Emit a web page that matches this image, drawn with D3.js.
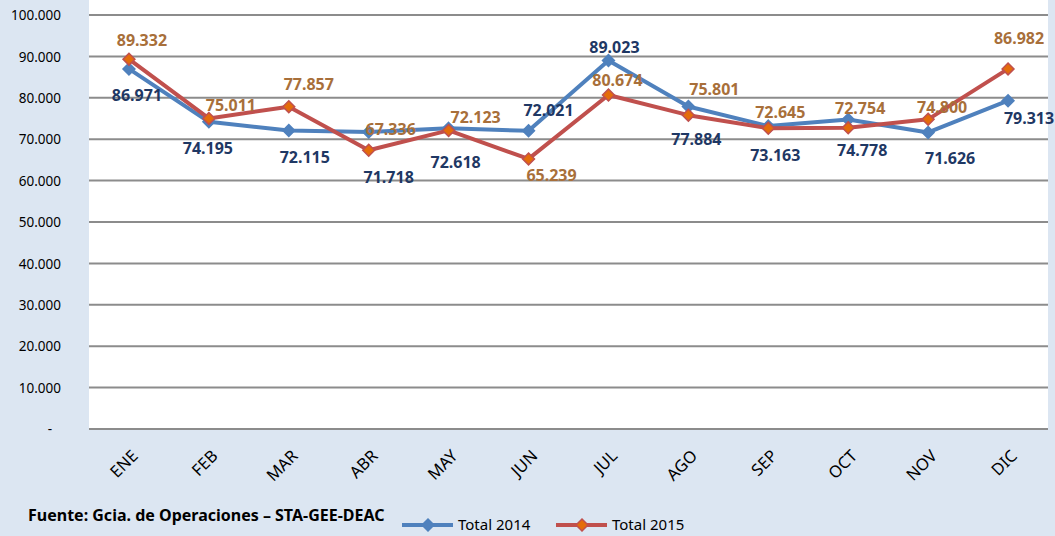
<!DOCTYPE html>
<html>
<head>
<meta charset="utf-8">
<script src="https://cdn.jsdelivr.net/npm/d3@7"></script>
<style>
  body { margin: 0; background: #dce6f2; }
  svg { display: block; font-family: "Noto Sans", sans-serif; }
</style>
</head>
<body>
<div id="chart"></div>
<script>
// Monthly totals, 2014 vs 2015
const months = ['ENE', 'FEB', 'MAR', 'ABR', 'MAY', 'JUN', 'JUL', 'AGO', 'SEP', 'OCT', 'NOV', 'DIC'];
const total2014 = [86971, 74195, 72115, 71718, 72618, 72021, 89023, 77884, 73163, 74778, 71626, 79313];
const total2015 = [89332, 75011, 77857, 67336, 72123, 65239, 80674, 75801, 72645, 72754, 74800, 86982];
const yTicks = [0, 10000, 20000, 30000, 40000, 50000, 60000, 70000, 80000, 90000, 100000];

const series = [
    { name: 'Total 2014', values: total2014, line: '#4f81bd', fill: '#4f81bd', stroke: '#4f81bd', label: '#1f3864' },
    { name: 'Total 2015', values: total2015, line: '#c0504d', fill: '#e46c0a', stroke: '#c0504d', label: '#a86f3a' }
];

// label nudges (dx, dy from the point), as placed in the original
const nudges = [
    [[8, 26], [-1, 26], [16, 27], [20, 45], [7, 34], [20, -21], [6, -13], [8, 33], [7, 29], [14, 31], [22, 26], [21, 18]],
    [[13, -19], [22, -13], [20, -22], [22, -21], [27, -13], [23, 16], [9, -15], [26, -26], [12, -16], [12, -20], [14, -12], [11, -31]]
];

const W = 1055, H = 536;
const plot = { left: 89, right: 1048, top: 0, bottom: 429 };

const svg = d3.select('#chart').append('svg')
    .attr('width', W)
    .attr('height', H);

svg.append('rect')
    .attr('width', W).attr('height', H)
    .attr('fill', '#dce6f2');

svg.append('rect')
    .attr('x', plot.left).attr('y', plot.top)
    .attr('width', plot.right - plot.left)
    .attr('height', plot.bottom - plot.top)
    .attr('fill', '#ffffff');

const x = d3.scaleBand()
    .domain(months)
    .range([plot.left, plot.right]);

const y = d3.scaleLinear()
    .domain([0, 100000])
    .range([429, 15]);

const fmt = d3.formatLocale({ decimal: ',', thousands: '.', grouping: [3], currency: ['', ''] }).format(',d');

// gridlines
svg.append('g')
    .selectAll('line')
    .data(yTicks)
    .join('line')
    .attr('x1', plot.left).attr('x2', plot.right)
    .attr('y1', d => y(d)).attr('y2', d => y(d))
    .attr('stroke', '#8c8c8c')
    .attr('stroke-width', 2);

// y axis labels
const yAxis = d3.axisLeft(y)
    .tickValues(yTicks)
    .tickSize(0)
    .tickPadding(0)
    .tickFormat(d => d === 0 ? '-' : fmt(d));

const yg = svg.append('g')
    .attr('transform', 'translate(61,0)')
    .call(yAxis);
yg.select('.domain').remove();
yg.selectAll('text')
    .attr('font-family', '"Noto Sans", sans-serif')
    .attr('font-size', 13.5)
    .attr('fill', '#000')
    .attr('dy', '0.35em')
    .attr('dx', d => d === 0 ? -9 : 0);

// x axis labels
const xAxis = d3.axisBottom(x).tickSize(0).tickPadding(0);
const xg = svg.append('g')
    .attr('transform', `translate(0,${plot.bottom})`)
    .call(xAxis);
xg.select('.domain').remove();
xg.selectAll('text')
    .attr('font-family', '"Noto Sans", sans-serif')
    .attr('font-size', 16.5)
    .attr('fill', '#000')
    .attr('text-anchor', 'end')
    .attr('dy', 0)
    .attr('y', 0)
    .attr('transform', 'translate(10,28) rotate(-45)');

const px = i => x(months[i]) + x.bandwidth() / 2;

const line = d3.line()
    .x((d, i) => px(i))
    .y(d => y(d));

const diamond = d3.symbol().type(d3.symbolDiamond2).size(90);

series.forEach((s, si) => {
    const g = svg.append('g');
    g.append('path')
        .datum(s.values)
        .attr('d', line)
        .attr('fill', 'none')
        .attr('stroke', s.line)
        .attr('stroke-width', 4)
        .attr('stroke-linejoin', 'round');

    g.selectAll('path.marker')
        .data(s.values)
        .join('path')
        .attr('class', 'marker')
        .attr('d', diamond)
        .attr('transform', (d, i) => `translate(${px(i)},${y(d)})`)
        .attr('fill', s.fill)
        .attr('stroke', s.stroke)
        .attr('stroke-width', 1.5);
});

// data labels on top
series.forEach((s, si) => {
    svg.append('g')
        .selectAll('text')
        .data(s.values)
        .join('text')
        .attr('x', (d, i) => px(i) + nudges[si][i][0])
        .attr('y', (d, i) => y(d) + nudges[si][i][1])
        .attr('dy', '0.36em')
        .attr('text-anchor', 'middle')
        .attr('font-size', 16)
        .attr('font-weight', 'bold')
        .attr('fill', s.label)
        .text(d => fmt(d));
});

// source note
svg.append('text')
    .attr('x', 28)
    .attr('y', 521)
    .attr('font-size', 16)
    .attr('font-weight', 'bold')
    .attr('fill', '#000')
    .text('Fuente: Gcia. de Operaciones \u2013 STA-GEE-DEAC');

// legend
const legendX = [402, 556];
const legend = svg.append('g');
series.forEach((s, si) => {
    const lg = legend.append('g').attr('transform', `translate(${legendX[si]},525)`);
    lg.append('line')
        .attr('x1', 0).attr('x2', 51)
        .attr('stroke', s.line)
        .attr('stroke-width', 4);
    lg.append('path')
        .attr('d', diamond)
        .attr('transform', 'translate(26,0)')
        .attr('fill', s.fill)
        .attr('stroke', s.stroke)
        .attr('stroke-width', 1.5);
    lg.append('text')
        .attr('x', 56)
        .attr('dy', '0.36em')
        .attr('font-size', 15)
        .attr('fill', '#000')
        .text(s.name);
});
</script>
</body>
</html>
